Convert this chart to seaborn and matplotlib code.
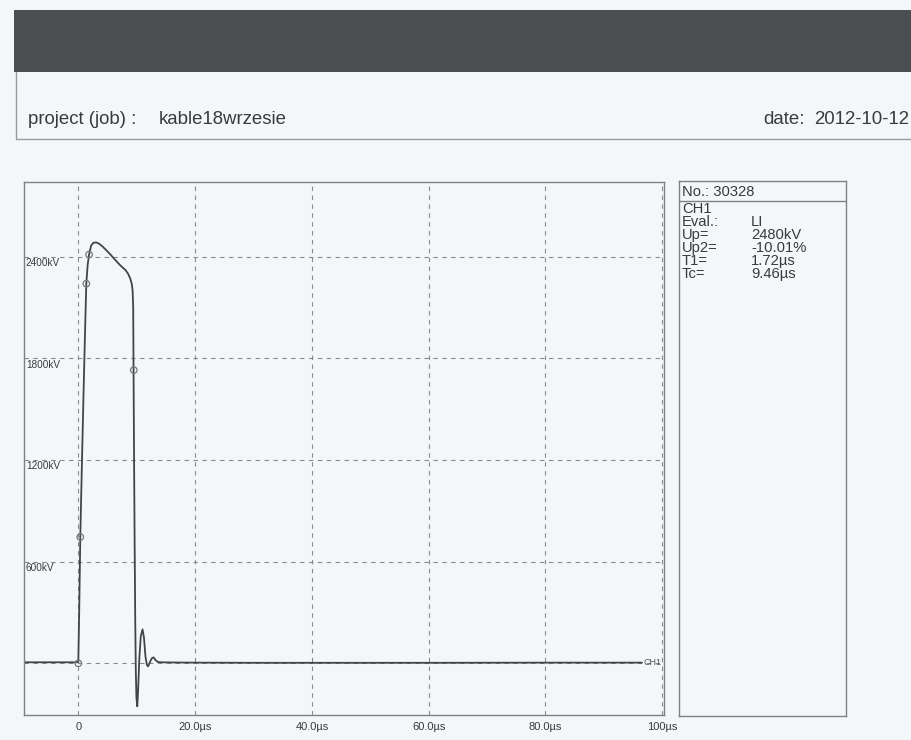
import numpy as np
import pandas as pd
import matplotlib
matplotlib.use("Agg")
import matplotlib.pyplot as plt
import matplotlib.transforms as mtransforms
from matplotlib.patches import Rectangle
from matplotlib.lines import Line2D
import seaborn as sns

# chopped lightning impulse record, CH1
time_us = [-9.3, -6.0, -3.0, -0.3, 0.0, 0.15, 0.34, 0.6, 0.9, 1.15, 1.37, 1.6, 1.84,
           2.2, 2.6, 3.1, 3.6, 4.2, 5.0, 5.5, 6.2, 7.0, 7.6, 8.1, 8.5, 8.9, 9.15,
           9.3, 9.4, 9.46, 9.55, 9.65, 9.75, 9.85, 9.95, 10.1, 10.25, 10.45, 10.7,
           11.0, 11.25, 11.5, 11.75, 11.95, 12.3, 12.6, 12.9, 13.2, 13.6, 14.2,
           16.0, 20.0, 30.0, 40.0, 60.0, 80.0, 96.5]
voltage_kv = [6, 6, 6, 6, 8, 300, 745, 1150, 1600, 1950, 2240, 2350, 2412,
              2465, 2482, 2483, 2475, 2458, 2430, 2412, 2385, 2355, 2335, 2320, 2300, 2270, 2240,
              2200, 2100, 1730, 1200, 700, 250, -50, -200, -254, -150, 30, 160,
              200, 150, 40, -10, -18, 10, 30, 35, 20, 8, 6,
              5, 4, 3, 3, 3, 4, 4]

# evaluation points marked with circles
mark_t = [0.0, 0.34, 1.37, 1.84, 9.5]
mark_kv = [0, 745, 2240, 2412, 1730]

y_ticks = [0, 600, 1200, 1800, 2400]
y_labels = ["", "600kV", "1200kV", "1800kV", "2400kV"]
x_ticks = [0, 20, 40, 60, 80, 100]
x_labels = ["0", "20.0µs", "40.0µs", "60.0µs", "80.0µs", "100µs"]

info_keys = ["CH1", "Eval.:", "Up=", "Up2=", "T1=", "Tc="]
info_vals = ["", "LI", "2480kV", "-10.01%", "1.72µs", "9.46µs"]

sns.set_style("white")
plt.rcParams["font.family"] = ["Liberation Sans", "DejaVu Sans"]
BG = "#f4f7fa"
INK = "#3a3a3a"
W, H = 911, 740

fig = plt.figure(figsize=(W / 100, H / 100), dpi=100, facecolor=BG)

def fx(px):
    return px / W

def fy(py):
    return 1 - py / H

# header band and project line
fig.patches.append(Rectangle((fx(14), fy(72)), 1 - fx(14), fy(10) - fy(72),
                             transform=fig.transFigure, facecolor="#4b4e50",
                             edgecolor="none", zorder=0))
fig.lines.append(Line2D([fx(16), fx(16)], [fy(72), fy(139)], transform=fig.transFigure,
                        color="#9a9a9a", lw=1))
fig.lines.append(Line2D([fx(16), 1], [fy(139), fy(139)], transform=fig.transFigure,
                        color="#9a9a9a", lw=1))
hdr = dict(fontsize=13.4, color=INK, va="center")
fig.text(fx(28), fy(120), "project (job) :", **hdr)
fig.text(fx(159), fy(120), "kable18wrzesie", **hdr)
fig.text(fx(763), fy(120), "date:", **hdr)
fig.text(fx(909), fy(120), "2012-10-12", ha="right", **hdr)

# waveform axes
ax = fig.add_axes([fx(24), fy(715), fx(664) - fx(24), fy(182) - fy(715)])
ax.set_facecolor(BG)
df = pd.DataFrame({"t": time_us, "u": voltage_kv})
sns.lineplot(data=df, x="t", y="u", ax=ax, color="#444444", lw=1.3,
             estimator=None, sort=False)
sns.scatterplot(x=mark_t, y=mark_kv, ax=ax, s=22, facecolor="none",
                edgecolor="#777777", linewidth=0.9, zorder=5)
ax.set_xlim(-9.3, 100.3)
ax.set_ylim(-305, 2840)
ax.set_xticks(x_ticks)
ax.set_xticklabels(x_labels, fontsize=8, color=INK)
ax.set_yticks(y_ticks)
ax.set_yticklabels([])
ax.tick_params(length=0, pad=5)
ax.set_xlabel("")
ax.set_ylabel("")
ax.grid(True, color="#8a8a8a", lw=0.8, linestyle=(0, (4, 4)))
for s in ax.spines.values():
    s.set_color("#808080")
    s.set_linewidth(1)
trans = mtransforms.blended_transform_factory(ax.transAxes, ax.transData)
for v, lab in zip(y_ticks, y_labels):
    ax.text(0.003, v - 8, lab, transform=trans, fontsize=7.2, color=INK,
            ha="left", va="top")
ax.text(time_us[-1] + 0.3, voltage_kv[-1], "CH1", fontsize=6.5, color="#555555",
        ha="left", va="center")

# info box
bx0, bx1, by0, by1 = 679, 846, 181, 716
ib = fig.add_axes([fx(bx0), fy(by1), fx(bx1) - fx(bx0), fy(by0) - fy(by1)])
ib.set_facecolor(BG)
ib.set_xticks([])
ib.set_yticks([])
for s in ib.spines.values():
    s.set_color("#808080")
    s.set_linewidth(1)

def ix(px):
    return (px - bx0) / (bx1 - bx0)

def iy(py):
    return 1 - (py - by0) / (by1 - by0)

info_font = dict(fontsize=10.6, color=INK, va="center", transform=ib.transAxes)
ib.text(ix(682), iy(192), "No.: 30328", **info_font)
ib.axhline(iy(201), color="#808080", lw=1)
rows_y = [209, 222, 235, 248, 261, 274]
for k, v, yy in zip(info_keys, info_vals, rows_y):
    ib.text(ix(682), iy(yy), k, **info_font)
    ib.text(ix(751), iy(yy), v, **info_font)

fig.savefig("out.png", dpi=100, facecolor=BG)
